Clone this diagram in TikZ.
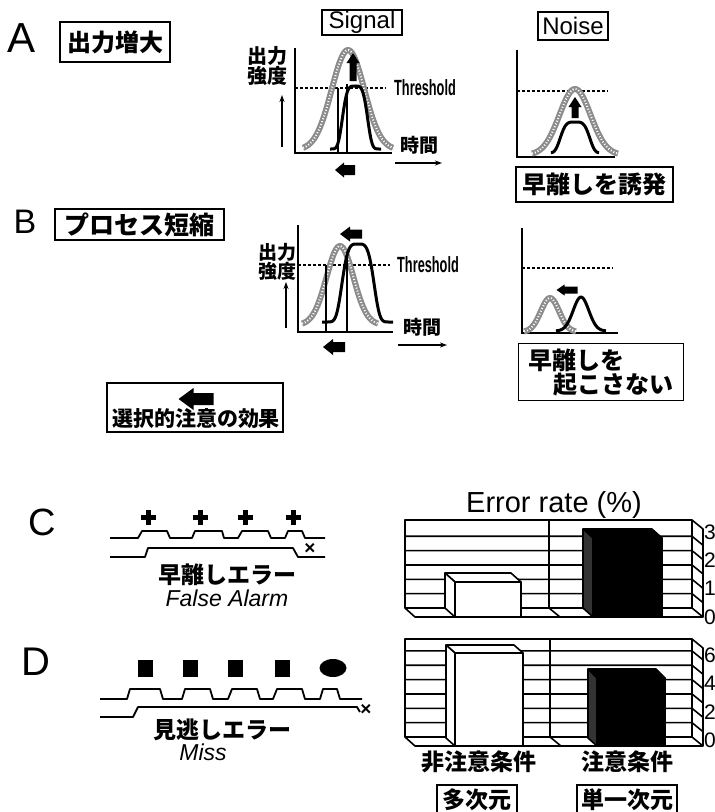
\documentclass[tikz,border=0pt]{standalone}
\usepackage{fontspec}
\setmainfont{Liberation Sans}
\newfontfamily\jp{Noto Sans CJK JP}
\usetikzlibrary{arrows.meta,fit}
\newcommand\fsz[1]{\fontsize{#1}{#1}\selectfont}
% block arrow pointing left: cx, cy, length, shaft half-height, head half-height, head length
\newcommand\blkleft[6]{\fill ({#1-#3/2},{#2}) -- ({#1-#3/2+#6},{#2-#5}) -- ({#1-#3/2+#6},{#2-#4}) -- ({#1+#3/2},{#2-#4}) -- ({#1+#3/2},{#2+#4}) -- ({#1-#3/2+#6},{#2+#4}) -- ({#1-#3/2+#6},{#2+#5}) -- cycle;}
% block arrow pointing up: cx, tip y, base y, shaft half-width, head half-width, head length
\newcommand\blkup[6]{\fill ({#1},{#2}) -- ({#1+#5},{#2+#6}) -- ({#1+#4},{#2+#6}) -- ({#1+#4},{#3}) -- ({#1-#4},{#3}) -- ({#1-#4},{#2+#6}) -- ({#1-#5},{#2+#6}) -- cycle;}
\tikzset{
  tbox/.style={draw, line width=1.3pt, inner sep=0pt},
  jpt/.style={font=\jp\bfseries\fsz{#1}},
  axisl/.style={line width=2pt},
  thrl/.style={line width=1.5pt, dash pattern=on 3pt off 2pt},
  thinar/.style={line width=1.3pt, -{Stealth[length=7pt,width=5pt]}},
  grayc/.style={draw=black!45, line width=6pt, line join=round},
  grayt/.style={draw=white, line width=2pt, dash pattern=on 1pt off 2pt},
  blkc/.style={line width=3pt, line join=round},
  vline/.style={line width=1.4pt},
  chl/.style={line width=1.6pt, line join=round},
  wave/.style={line width=1.8pt, line join=round},
}
\begin{document}
\begin{tikzpicture}[x=1pt,y=-1pt]
\useasboundingbox (0,0) rectangle (715,812);
\fill[white] (0,0) rectangle (715,812);

% ---------------- A / B headings
\node[font=\fsz{42}] (labA) at (22,38) {A};
\node[tbox, minimum width=110pt, minimum height=40pt, jpt=24] (boxA) at (115,42) {出力増大};
\node[font=\fsz{34}] (labB) at (25,222) {B};
\node[tbox, minimum width=169pt, minimum height=31pt, jpt=25] (boxB) at (139.5,224.5) {プロセス短縮};
\node[tbox, minimum width=80pt, minimum height=25pt, font=\fsz{24}] (sig) at (362,22.5) {Signal};
\node[tbox, minimum width=70pt, minimum height=28pt, font=\fsz{24}] (noi) at (573,26) {Noise};

% ---------------- A signal
\node[jpt=20, align=center] (ylA) at (267,66) {出力\\強度};
\draw[thinar] (282,147) -- (282,95);
\draw[axisl] (295,48) -- (295,153) -- (392,153);
\draw[thrl] (295,88) -- (386,88);
\node[anchor=west, inner sep=0pt] (thA) at (394,88) {\scalebox{0.58}[1]{\bfseries\fsz{22}Threshold}};
\node[anchor=west, inner sep=0pt, jpt=19] (tmA) at (400,145) {時間};
\draw[thinar] (395,163) -- (442,163);
\draw[grayc] plot[domain=303:393, samples=60, smooth] (\x, {150-100*exp(-(\x-348)*(\x-348)/529)});
\draw[grayt] plot[domain=303:393, samples=60, smooth] (\x, {150-100*exp(-(\x-348)*(\x-348)/529)});
\draw[blkc] plot[domain=330:381, samples=60, smooth] (\x, {149-63*exp(-((\x-355)*(\x-355)/187.7)*((\x-355)*(\x-355)/187.7))});
\draw[vline] (338,88) -- (338,153);
\draw[vline] (347,84) -- (347,153);
\blkup{353}{53}{81}{3.5}{6.5}{10}
\blkleft{345}{170}{20}{5}{7.5}{9}

% ---------------- A noise
\draw[axisl] (517,50) -- (517,157) -- (615,157);
\draw[thrl] (517,91) -- (608,91);
\draw[grayc] plot[domain=532:618, samples=60, smooth] (\x, {155-66*exp(-(\x-575)*(\x-575)/484)});
\draw[grayt] plot[domain=532:618, samples=60, smooth] (\x, {155-66*exp(-(\x-575)*(\x-575)/484)});
\draw[blkc] plot[domain=551:599, samples=60, smooth] (\x, {153-31*exp(-((\x-575)*(\x-575)/256)*((\x-575)*(\x-575)/256))});
\blkup{575}{97}{118}{3.5}{6.5}{10}
\node[tbox, minimum width=157pt, minimum height=35pt, jpt=24] (nbA) at (594.5,184.5) {早離しを誘発};

% ---------------- B signal
\node[jpt=19, align=center] (ylB) at (277,262) {出力\\強度};
\draw[thinar] (286,328) -- (286,282);
\draw[axisl] (298,225) -- (298,332) -- (393,332);
\draw[thrl] (298,265) -- (390,265);
\node[anchor=west, inner sep=0pt] (thB) at (397,265) {\scalebox{0.58}[1]{\bfseries\fsz{22}Threshold}};
\node[anchor=west, inner sep=0pt, jpt=19] (tmB) at (403,327) {時間};
\draw[thinar] (398,345) -- (447,345);
\draw[grayc] plot[domain=302:378, samples=60, smooth] (\x, {325-79*exp(-(\x-340)*(\x-340)/361)});
\draw[grayt] plot[domain=302:378, samples=60, smooth] (\x, {325-79*exp(-(\x-340)*(\x-340)/361)});
\draw[blkc] plot[domain=322:393, samples=70, smooth] (\x, {322-78*exp(-((\x-358)*(\x-358)/306)*((\x-358)*(\x-358)/306))});
\draw[vline] (326,265) -- (326,332);
\draw[vline] (347,258) -- (347,332);
\blkleft{351}{234}{22}{4.5}{7.5}{10}
\blkleft{334}{347}{22}{5}{8}{10}

% ---------------- B noise
\draw[axisl] (522,228) -- (522,333) -- (618,333);
\draw[thrl] (522,268) -- (613,268);
\draw[grayc] plot[domain=524:576, samples=50, smooth] (\x, {332-34*exp(-(\x-550)*(\x-550)/169)});
\draw[grayt] plot[domain=524:576, samples=50, smooth] (\x, {332-34*exp(-(\x-550)*(\x-550)/169)});
\draw[blkc] plot[domain=556:606, samples=50, smooth] (\x, {331-34*exp(-(\x-581)*(\x-581)/121)});
\blkleft{567}{290}{21}{3.5}{5.5}{8}
\node[tbox, anchor=north west, inner xsep=10pt, inner ysep=5pt, text width=145pt, align=left, jpt=24] (nbB) at (518,343) {早離しを\\\hspace*{25pt}起こさない};

% ---------------- legend
\node[jpt=21] (legt) at (196,419) {選択的注意の効果};
\blkleft{196}{399}{35}{6}{11}{15}
\node[tbox, fit={(107,383) (283,432)}] (legbox) {};

% ---------------- C
\node[font=\fsz{38}] (labC) at (42,522) {C};
\tikzset{plusmk/.pic={\fill (-7.5,-2.5) rectangle (7.5,2.5); \fill (-2.5,-7.5) rectangle (2.5,7.5);}}
\foreach \px in {148,200,245,293} { \pic at (\px,517) {plusmk}; }
\draw[wave] (110,538) -- (138,538) -- (142,531) -- (167,531) -- (170,538) -- (192,538) -- (195,531) -- (222,531) -- (224,538) -- (238,538) -- (242,531) -- (268,531) -- (271,538) -- (285,538) -- (288,531) -- (302,531) -- (305,538) -- (325,538);
\draw[wave] (110,557) -- (145,557) -- (148,548) -- (293,548) -- (298,557) -- (325,557);
\node[font=\bfseries\fsz{19}, inner sep=0pt] (xC) at (310,549) {×};
\node[jpt=23] (errC) at (227,575) {早離しエラー};
\node[font=\itshape\fsz{23}] (faC) at (227,598) {False Alarm};

% ---------------- D
\node[font=\fsz{40}] (labD) at (36,662) {D};
\foreach \px in {145,190,235,282} { \fill (\px-7.5,659.5) rectangle (\px+7.5,676.5); }
\fill (333,668) ellipse [x radius=13.5, y radius=9];
\draw[wave] (100,699) -- (127,699) -- (130,689) -- (160,689) -- (163,699) -- (182,699) -- (185,689) -- (210,689) -- (213,699) -- (228,699) -- (232,689) -- (257,689) -- (260,699) -- (273,699) -- (277,689) -- (302,689) -- (305,699) -- (320,699) -- (323,689) -- (337,689) -- (340,699) -- (362,699);
\draw[wave] (100,717) -- (133,717) -- (138,707) -- (357,707) -- (360,712);
\node[font=\bfseries\fsz{19}, inner sep=0pt] (xD) at (366,710) {×};
\node[jpt=23] (errD) at (222,730) {見逃しエラー};
\node[font=\itshape\fsz{23}] (miD) at (203,752) {Miss};

% ---------------- chart C
\node[font=\fsz{29}] (ert) at (554,505) {Error rate (\%)};
\draw[chl] (405,520) rectangle (692,608);
\foreach \k in {1,...,5} { \draw[chl] (405,{608-14.35*\k}) -- (692,{608-14.35*\k}) -- (703,{617-14.35*\k}); }
\draw[chl] (692,520) -- (703,529) -- (703,617) -- (692,608);
\draw[chl] (405,608) -- (415,617) -- (703,617);
\draw[chl] (549,520) -- (549,608) -- (560,617);
% white bar
\filldraw[chl, fill=white] (445,573) -- (511,573) -- (521,582) -- (455,582) -- cycle;
\filldraw[chl, fill=white] (445,573) -- (455,582) -- (455,617) -- (445,608) -- cycle;
\filldraw[chl, fill=white] (455,582) rectangle (521,617);
% black bar
\filldraw[chl, fill=black] (583,529) -- (652,529) -- (662,538) -- (593,538) -- cycle;
\filldraw[chl, fill=black!80] (583,529) -- (593,538) -- (593,617) -- (583,608) -- cycle;
\filldraw[chl, fill=black] (593,538) rectangle (662,617);
\node[anchor=west, inner sep=0pt, font=\fsz{21}] (c3) at (704,532) {3};
\node[anchor=west, inner sep=0pt, font=\fsz{21}] (c2) at (704,560) {2};
\node[anchor=west, inner sep=0pt, font=\fsz{21}] (c1) at (704,588) {1};
\node[anchor=west, inner sep=0pt, font=\fsz{21}] (c0) at (704,617) {0};

% ---------------- chart D
\draw[chl] (405,639) rectangle (692,737);
\foreach \k in {1,...,6} { \draw[chl] (405,{737-14.35*\k}) -- (692,{737-14.35*\k}) -- (703,{746-14.35*\k}); }
\draw[chl] (692,639) -- (703,648) -- (703,746) -- (692,737);
\draw[chl] (405,737) -- (415,746) -- (703,746);
\draw[chl] (550,639) -- (550,737) -- (561,746);
\filldraw[chl, fill=white] (446,645) -- (514,645) -- (523,653) -- (455,653) -- cycle;
\filldraw[chl, fill=white] (446,645) -- (455,653) -- (455,746) -- (446,738) -- cycle;
\filldraw[chl, fill=white] (455,653) rectangle (523,746);
\filldraw[chl, fill=black] (588,669) -- (656,669) -- (665,678) -- (597,678) -- cycle;
\filldraw[chl, fill=black!80] (588,669) -- (597,678) -- (597,746) -- (588,738) -- cycle;
\filldraw[chl, fill=black] (597,678) rectangle (665,746);
\node[anchor=west, inner sep=0pt, font=\fsz{21}] (d6) at (704,655) {6};
\node[anchor=west, inner sep=0pt, font=\fsz{21}] (d4) at (704,683) {4};
\node[anchor=west, inner sep=0pt, font=\fsz{21}] (d2) at (704,712) {2};
\node[anchor=west, inner sep=0pt, font=\fsz{21}] (d0) at (704,740) {0};

% ---------------- bottom labels
\node[jpt=23] (cnd1) at (479,762) {非注意条件};
\node[jpt=23] (cnd2) at (627,762) {注意条件};
\node[jpt=23] (dim1) at (477,800) {多次元};
\node[jpt=23] (dim2) at (627,800) {単一次元};
\draw[line width=1.3pt] (437,812) -- (437,785) -- (517,785) -- (517,812);
\draw[line width=1.3pt] (577,812) -- (577,785) -- (677,785) -- (677,812);
\end{tikzpicture}
\end{document}
